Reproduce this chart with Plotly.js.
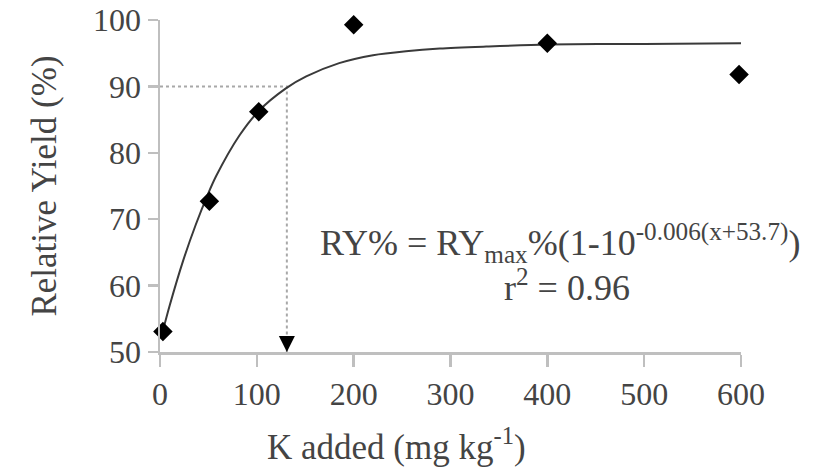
<!DOCTYPE html>
<html>
<head>
<meta charset="utf-8">
<script src="https://cdn.plot.ly/plotly-3.0.1.min.js"></script>
<style>html,body{margin:0;padding:0;background:#fff;}#chart{width:833px;height:468px;}</style>
</head>
<body>
<div id="chart"></div>
<script>
// Observed data (K added, mg/kg vs relative yield, %)
var obsX = [3, 51, 102, 200, 400, 598];
var obsY = [53.1, 72.7, 86.2, 99.3, 96.5, 91.8];

// Fitted curve
var curveX = [3, 10, 24, 37, 49, 58, 82, 102, 130, 151, 185, 220, 254, 289, 337, 400, 500, 600];
var curveY = [53.2, 57.0, 63.8, 69.2, 73.6, 76.5, 82.6, 86.3, 89.7, 91.5, 93.5, 94.7, 95.3, 95.7, 96.0, 96.3, 96.4, 96.5];

// Critical level (90% relative yield)
var critX = 131;
var critY = 90;
var yMin = 50;
var refX = [0, critX, critX];
var refY = [critY, critY, yMin];

var xTicks = [0, 100, 200, 300, 400, 500, 600];
var yTicks = [50, 60, 70, 80, 90, 100];

var axisGray = "#bfbfbf";

var traces = [
  {x: refX, y: refY, mode: "lines", type: "scatter",
   line: {color: "#a8a8a8", width: 2, dash: "dot"}, showlegend: false},
  {x: curveX, y: curveY, mode: "lines", type: "scatter",
   line: {color: "#3a3a3a", width: 2, shape: "spline", smoothing: 0.8}, showlegend: false},
  {x: obsX, y: obsY, mode: "markers", type: "scatter",
   marker: {symbol: "diamond", size: 15, color: "#000"}, showlegend: false, cliponaxis: false}
];

var layout = {
  width: 833, height: 468,
  margin: {l: 160, r: 92, t: 20, b: 116},
  showlegend: false,
  xaxis: {
    range: [0, 600], tickvals: xTicks,
    showgrid: false, zeroline: false, showline: true, linecolor: axisGray, linewidth: 2.5,
    ticks: "outside", ticklen: 12, tickwidth: 2.5, tickcolor: axisGray,
    tickfont: {family: "Liberation Serif", size: 32}
  },
  yaxis: {
    range: [50, 100], tickvals: yTicks,
    showgrid: false, zeroline: false, showline: true, linecolor: axisGray, linewidth: 2.5,
    ticks: "outside", ticklen: 10, tickwidth: 2.5, tickcolor: axisGray,
    tickfont: {family: "Liberation Serif", size: 32},
    title: {text: "Relative Yield (%)", font: {family: "Liberation Serif", size: 35}, standoff: 26}
  },
  annotations: [
    {xref: "x", yref: "y", x: critX, y: yMin, ax: 0, ay: -16, text: "",
     showarrow: true, arrowhead: 2, arrowsize: 1.6, arrowwidth: 2, arrowcolor: "#000"},
    {xref: "paper", yref: "paper", x: 0.272, y: 0.328, xanchor: "left", yanchor: "middle",
     showarrow: false, text: "RY% = RY<sub>max</sub>%(1-10<sup>-0.006(x+53.7)</sup>)",
     font: {family: "Liberation Serif", size: 36}},
    {xref: "paper", yref: "paper", x: 0.7005, y: 0.2018, xanchor: "center", yanchor: "middle",
     showarrow: false, text: "r<sup>2</sup> = 0.96",
     font: {family: "Liberation Serif", size: 36}},
    {xref: "paper", yref: "paper", x: 0.407, y: -0.28, xanchor: "center", yanchor: "middle",
     showarrow: false, text: "K added (mg kg<sup>-1</sup>)",
     font: {family: "Liberation Serif", size: 35}}
  ]
};

Plotly.newPlot("chart", traces, layout, {displayModeBar: false, staticPlot: true});
</script>
</body>
</html>
